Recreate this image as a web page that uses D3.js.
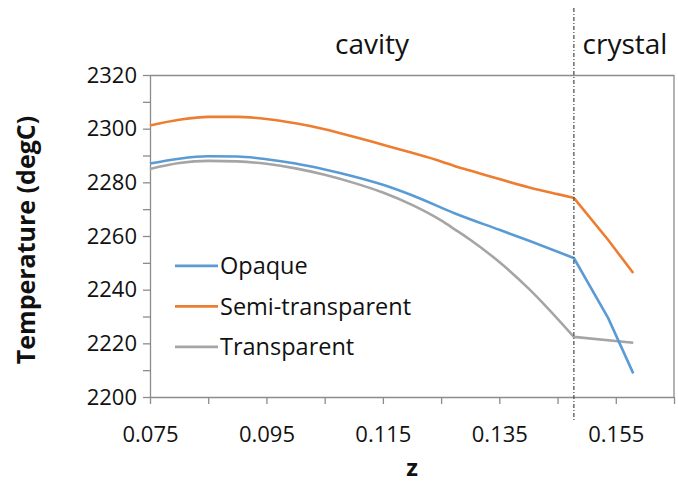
<!DOCTYPE html>
<html>
<head>
<meta charset="utf-8">
<script src="https://cdn.jsdelivr.net/npm/d3@7"></script>
<style>
  body { margin:0; background:#fff; }
  text { font-family: "Open Sans", Lato, sans-serif; fill:#111; }
</style>
</head>
<body>
<div id="chart"></div>
<script>
// series values
var zOpaque = [0.075,0.080,0.085,0.090,0.095,0.100,0.105,0.110,0.115,0.120,0.1274,0.135,0.140,0.1478,0.1537,0.158];
var tOpaque = [2287.0,2288.8,2289.7,2289.6,2288.6,2287.0,2284.8,2282.2,2279.1,2275.2,2268.4,2262.3,2258.3,2251.8,2229.4,2208.8];

var zSemi = [0.075,0.080,0.085,0.090,0.095,0.100,0.105,0.110,0.115,0.120,0.125,0.1274,0.130,0.135,0.140,0.145,0.1478,0.1537,0.158];
var tSemi = [2301.2,2303.3,2304.4,2304.4,2303.6,2302.0,2299.8,2297.0,2294.0,2291.0,2287.8,2286.0,2284.4,2281.2,2278.2,2275.6,2274.2,2258.5,2246.2];

var zTrans = [0.075,0.080,0.085,0.090,0.095,0.100,0.105,0.110,0.115,0.120,0.125,0.1274,0.130,0.135,0.140,0.1478,0.158];
var tTrans = [2285.0,2287.2,2288.0,2287.8,2286.9,2285.2,2282.8,2279.8,2276.2,2271.6,2265.8,2262.4,2258.6,2250.3,2240.5,2222.4,2220.2];

var seriesNames = ["Opaque","Semi-transparent","Transparent"];
var seriesColors = ["#5B9BD5","#ED7D31","#A5A5A5"];

var xTicks = [0.075,0.085,0.095,0.105,0.115,0.125,0.135,0.145,0.155,0.165];
var xLabels = [0.075,0.095,0.115,0.135,0.155];
var yTicks = d3.range(2200, 2321, 10);
var yLabels = [2200,2220,2240,2260,2280,2300,2320];
var boundaryZ = 0.1478;
var regionNames = ["cavity","crystal"];

var W = 678, H = 482;
var margin = {top:75, right:4, bottom:85, left:150};
var width = W - margin.left - margin.right,
    height = H - margin.top - margin.bottom;

var svg = d3.select("#chart").append("svg").attr("width", W).attr("height", H);
var g = svg.append("g").attr("transform", "translate(" + margin.left + "," + margin.top + ")");

var x = d3.scaleLinear().domain([0.075, 0.165]).range([0, width]);
var y = d3.scaleLinear().domain([2200, 2320]).range([height, 0]);

// plot frame (top and right)
g.append("path")
  .attr("d", "M0,0.5H" + width + "V" + height)
  .attr("fill", "none").attr("stroke", "#8c8c8c").attr("stroke-width", 1.3);

// axes
var xAxis = g.append("g")
  .attr("transform", "translate(0," + height + ")")
  .call(d3.axisBottom(x).tickValues(xTicks).tickSize(7).tickSizeOuter(0)
    .tickFormat(function(d){ return xLabels.some(function(v){ return Math.abs(v-d)<1e-9; }) ? d3.format(".3f")(d) : ""; }));
var yAxis = g.append("g")
  .call(d3.axisLeft(y).tickValues(yTicks).tickSize(7).tickSizeOuter(0)
    .tickFormat(function(d){ return yLabels.indexOf(d) > -1 ? d : ""; }));

[xAxis, yAxis].forEach(function(a){
  a.select(".domain").attr("stroke", "#8c8c8c").attr("stroke-width", 1.3);
  a.selectAll(".tick line").attr("stroke", "#8c8c8c").attr("stroke-width", 1.3);
  a.selectAll(".tick text").attr("font-size", 22).attr("font-family", "'Open Sans', sans-serif").attr("fill", "#111");
});
xAxis.selectAll(".tick text").attr("dy", 35);
yAxis.selectAll(".tick text").attr("x", -13);

// lines: smooth inside the cavity, straight segments in the crystal, gray first
var curved = d3.line().curve(d3.curveMonotoneX).x(function(d){ return x(d[0]); }).y(function(d){ return y(d[1]); });
var straight = d3.line().x(function(d){ return x(d[0]); }).y(function(d){ return y(d[1]); });
var series = [d3.zip(zOpaque, tOpaque), d3.zip(zSemi, tSemi), d3.zip(zTrans, tTrans)];
[2,0,1].forEach(function(i){
  var pts = series[i];
  var cav = pts.filter(function(d){ return d[0] <= boundaryZ + 1e-9; });
  var cry = pts.filter(function(d){ return d[0] >= boundaryZ - 1e-9; });
  g.append("path")
    .attr("d", curved(cav) + straight(cry).replace(/^M/, "L"))
    .attr("fill", "none").attr("stroke", seriesColors[i]).attr("stroke-width", 2.6)
    .attr("stroke-linejoin", "round");
});

// boundary line between cavity and crystal
svg.append("line")
  .attr("x1", margin.left + x(boundaryZ)).attr("x2", margin.left + x(boundaryZ))
  .attr("y1", 8).attr("y2", margin.top + height + 24)
  .attr("stroke", "#555").attr("stroke-width", 1.3)
  .attr("stroke-dasharray", "4,2,1,2");

// region labels
svg.append("text").attr("x", 372).attr("y", 54).attr("text-anchor", "middle")
  .attr("font-size", 28).text(regionNames[0]);
svg.append("text").attr("x", 625).attr("y", 54).attr("text-anchor", "middle")
  .attr("font-size", 28).text(regionNames[1]);

// legend
var legend = g.append("g").attr("transform", "translate(25," + (y(2250) + 3) + ")");
seriesNames.forEach(function(name, i){
  var row = legend.append("g").attr("transform", "translate(0," + (i * 40.5) + ")");
  row.append("line").attr("x1", 0).attr("x2", 43).attr("stroke", seriesColors[i]).attr("stroke-width", 2.6);
  row.append("text").attr("x", 45).attr("dy", "0.35em").attr("font-size", 23.5).text(name);
});

// axis titles
svg.append("text")
  .attr("transform", "translate(35," + (margin.top + height / 2 + 4) + ") rotate(-90)")
  .attr("text-anchor", "middle").attr("font-size", 25).attr("font-weight", "bold")
  .text("Temperature (degC)");
svg.append("text").attr("x", margin.left + width / 2).attr("y", 476)
  .attr("text-anchor", "middle").attr("font-size", 24).attr("font-weight", "bold").text("z");
</script>
</body>
</html>
